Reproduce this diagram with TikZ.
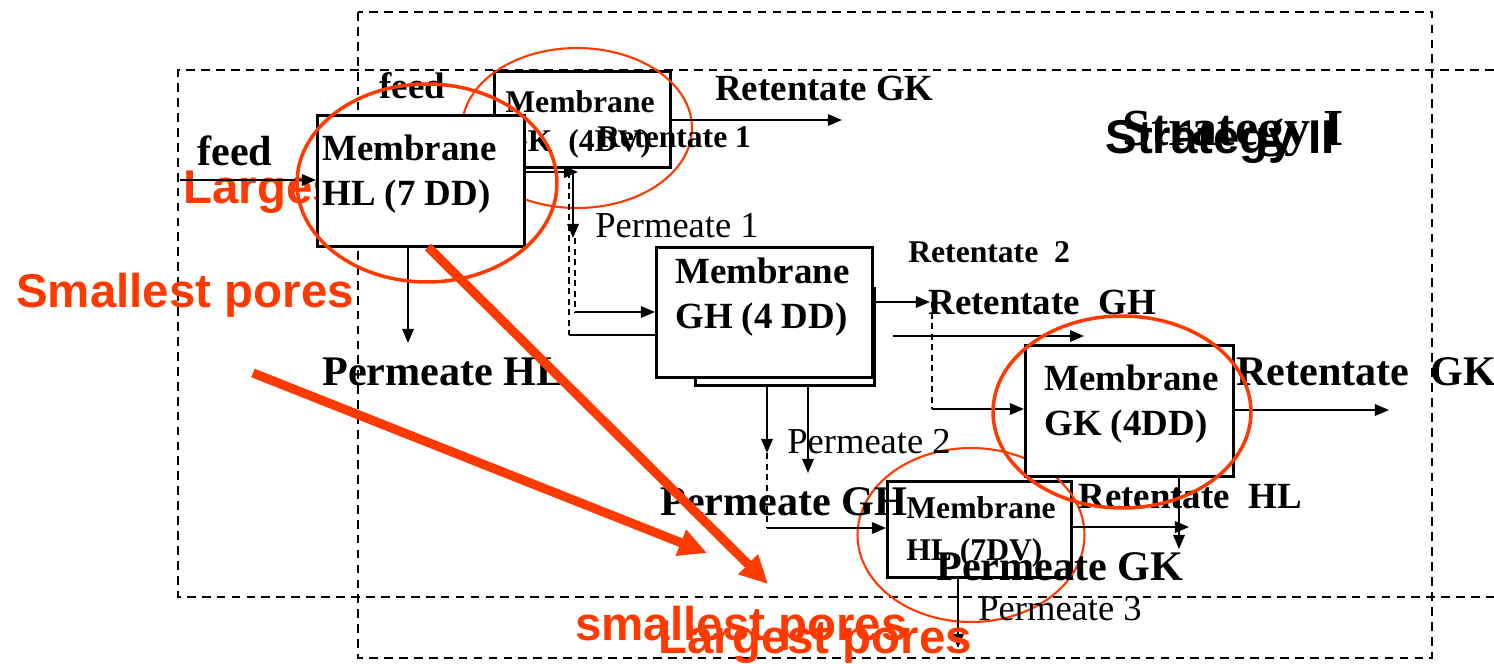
\documentclass[tikz,border=0pt]{standalone}
\usepackage{fontspec}
\setmainfont{Liberation Serif}
\newfontfamily\arialfont{Liberation Sans}
\usetikzlibrary{arrows.meta,shapes.geometric}
\definecolor{poreRed}{HTML}{FF3A00}

\tikzset{
  unitbox/.style={draw, line width=1.5pt, fill=white, inner sep=0pt, anchor=north west},
  flow/.style={line width=1.1pt, -{Triangle[length=8pt,width=6.5pt]}},
  pipe/.style={line width=1.1pt},
  dpipe/.style={line width=1.1pt, dash pattern=on 3.5pt off 2.5pt},
  stratframe/.style={line width=1.1pt, dash pattern=on 5pt off 3.5pt},
  lbl/.style={anchor=base west, inner sep=0pt},
  boxtxt/.style={lbl, font=\fontsize{21}{25}\selectfont\bfseries},
  smalltxt/.style={lbl, font=\fontsize{18}{21}\selectfont\bfseries},
  bigtxt/.style={lbl, font=\fontsize{24}{28}\selectfont\bfseries},
  plaintxt/.style={lbl, font=\fontsize{20.8}{24}\selectfont},
  poretxt/.style={lbl, text=poreRed, font=\arialfont\fontsize{27}{31}\selectfont\bfseries},
  ring/.style={draw=poreRed, ellipse, inner sep=0pt},
  porearrow/.style={draw=poreRed, line width=5.2pt, -{Triangle[length=16pt,width=15pt]}},
}

\begin{document}
\begin{tikzpicture}[x=0.02cm, y=-0.02cm]
  \useasboundingbox (0,0) rectangle (1494,663);

  % dashed frames of the two strategies
  \draw[stratframe] (358,12) rectangle (1432,658);
  \draw[stratframe] (1494,70) -- (178,70) -- (178,597) -- (1494,597);

  % red note, mostly hidden behind the first membrane
  \node[poretxt] (largeA) at (183,203) {Largest pores};

  % first stage of strategy II
  \node[unitbox, minimum width=3.52cm, minimum height=1.92cm] (gkv) at (493,70) {};
  \node[smalltxt] (gkvA) at (505,112) {Membrane};
  \node[smalltxt] (gkvB) at (503,151) {GK~ (4DV)};
  \node[ring, line width=1.2pt, minimum width=4.6cm, minimum height=3.2cm] (ringA) at (577,128) {};

  % first stage of strategy I
  \node[unitbox, minimum width=4.14cm, minimum height=2.62cm] (hl) at (316,114) {};
  \node[boxtxt] (hlA) at (322,160) {Membrane};
  \node[boxtxt] (hlB) at (322,205) {HL (7 DD)};

  % second stage
  \node[unitbox, minimum width=3.58cm, minimum height=1.94cm] (ghb) at (694,287) {};
  \node[unitbox, minimum width=4.32cm, minimum height=2.6cm] (gh) at (655,246) {};
  \node[boxtxt] (ghA) at (675,283) {Membrane};
  \node[boxtxt] (ghB) at (675,328) {GH (4 DD)};

  % last stages
  \node[unitbox, minimum width=3.68cm, minimum height=1.92cm] (hlv) at (886,480) {};
  \node[smalltxt] (hlvA) at (906,518) {Membrane};
  \node[smalltxt] (hlvB) at (906,560) {HL (7DV)};
  \node[ring, line width=1.2pt, minimum width=4.54cm, minimum height=3.48cm] (ringD) at (971,535) {};
  \node[unitbox, minimum width=4.16cm, minimum height=2.62cm] (gk) at (1024,344) {};
  \node[boxtxt] (gkA) at (1044,390) {Membrane};
  \node[boxtxt] (gkB) at (1044,435) {GK (4DD)};

  % feeds
  \coordinate (feedin) at (180,180);
  \draw[flow] (feedin) -- (feedin -| hl.west);
  \node[bigtxt] (feedA) at (197,165) {feed};
  \node[boxtxt] (feedB) at (379,98) {feed};

  % outlets of membrane HL (7 DD)
  \coordinate (ret1b) at (572,167);
  \draw[pipe] (ret1b -| hl.east) -- (ret1b);
  \coordinate (ret1) at (578,172);
  \draw[flow] (ret1 -| hl.east) -- (ret1);
  \coordinate (perm1) at (573,238);
  \draw[flow] (ret1 -| perm1) -- (perm1);
  \node[plaintxt] (perm1L) at (595,237) {Permeate 1};
  \coordinate (bypass) at (569,335);
  \draw[dpipe] (ret1 -| bypass) -- (bypass);
  \draw[pipe] (bypass) -- (bypass -| gh.west);
  \coordinate (feedgh) at (575,312);
  \draw[dpipe] (perm1 -| feedgh) -- (feedgh);
  \draw[flow] (feedgh) -- (feedgh -| gh.west);
  \coordinate (permhl) at (408,343);
  \draw[flow] (hl.south -| permhl) -- (permhl);
  \node[bigtxt] (permhlL) at (322,385) {Permeate HL};

  % outlet of membrane GK (4DV)
  \coordinate (retgk) at (842,120);
  \draw[flow] (retgk -| gkv.east) -- (retgk);
  \node[boxtxt] (retgkL) at (715,100) {Retentate GK};
  \node[smalltxt] (ret1L) at (597,147) {Retentate 1};

  % outlets of membrane GH
  \coordinate (ret2) at (930,302);
  \draw[flow] (ret2 -| ghb.east) -- (ret2);
  \node[smalltxt] (ret2L) at (908,262) {Retentate~ 2};
  \node[boxtxt] (retghL) at (928,314) {Retentate~ GH};
  \coordinate (retghs) at (893,336);
  \coordinate (retgh) at (1084,336);
  \draw[flow] (retghs) -- (retgh);
  \coordinate (feedgk) at (932,409);
  \draw[dpipe] (ret2 -| feedgk) -- (feedgk);
  \draw[flow] (feedgk) -- (feedgk -| gk.west);
  \coordinate (perm2) at (767,453);
  \draw[flow] (ghb.south -| perm2) -- (perm2);
  \coordinate (feedhl) at (767,528);
  \draw[dpipe] (perm2) -- (feedhl);
  \draw[flow] (feedhl) -- (feedhl -| hlv.west);
  \coordinate (perm2b) at (808,473);
  \draw[flow] (ghb.south -| perm2b) -- (perm2b);
  \node[plaintxt] (perm2L) at (787,453) {Permeate 2};
  \node[bigtxt] (permghL) at (660,515) {Permeate GH};

  % outlets of the last stages
  \coordinate (retgk2) at (1389,410);
  \draw[flow] (retgk2 -| gk.east) -- (retgk2);
  \node[bigtxt] (retgk2L) at (1236,385) {Retentate~ GK};
  \coordinate (rethl) at (1189,527);
  \draw[flow] (rethl -| hlv.east) -- (rethl);
  \node[boxtxt] (rethlL) at (1078,508) {Retentate~ HL};
  \coordinate (permgk) at (1179,549);
  \draw[flow] (gk.south -| permgk) -- (permgk);
  \node[bigtxt] (permgkL) at (936,580) {Permeate GK};
  \coordinate (perm3) at (958,648);
  \draw[flow] (hlv.south -| perm3) -- (perm3);
  \node[plaintxt] (perm3L) at (978,620) {Permeate 3};

  % strategy titles
  \node[lbl, font=\fontsize{29.6}{34}\selectfont\bfseries] (stratI) at (1122,145) {Strategy I};
  \node[lbl, font=\arialfont\fontsize{27}{31}\selectfont\bfseries] (stratII) at (1105,153) {Strategy II};

  % red marks: pore sizes
  \node[ring, line width=2pt, minimum width=5.2cm, minimum height=3.96cm] (ringB) at (427,183) {};
  \node[ring, line width=2pt, minimum width=5.16cm, minimum height=3.84cm] (ringC) at (1122,412) {};
  \node[poretxt] (smallA) at (16,307) {Smallest pores};
  \node[poretxt] (smallB) at (575,640) {smallest pores};
  \node[poretxt] (largeB) at (658,653) {Largest pores};
  \coordinate (arrA) at (253,373);
  \coordinate (arrAend) at (707,553);
  \draw[porearrow] (arrA) -- (arrAend);
  \coordinate (arrB) at (428,247);
  \coordinate (arrBend) at (768,584);
  \draw[porearrow] (arrB) -- (arrBend);
\end{tikzpicture}
\end{document}
